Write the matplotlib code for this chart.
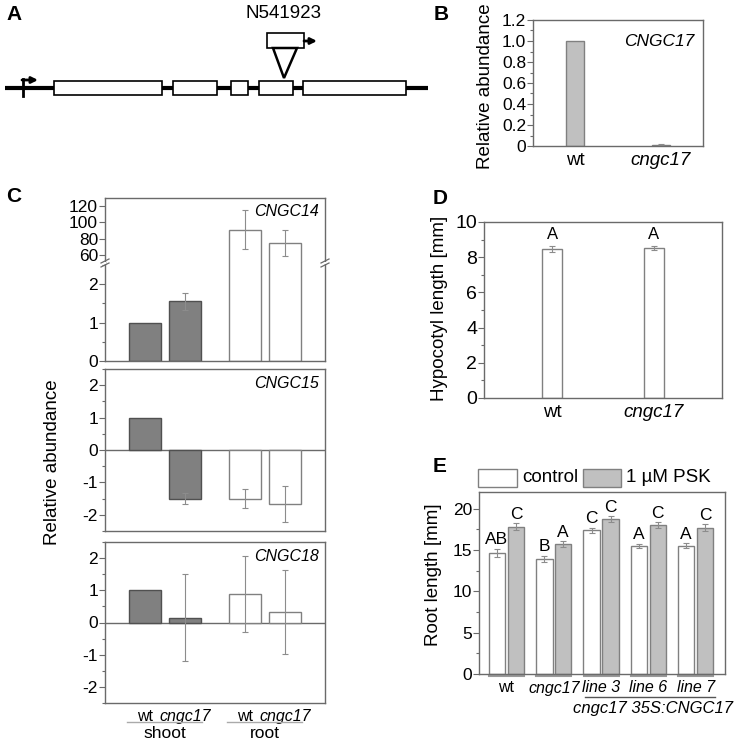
import numpy as np
import matplotlib
matplotlib.use("Agg")
import matplotlib.pyplot as plt
from matplotlib.patches import Rectangle, Polygon
from matplotlib.ticker import MultipleLocator, FuncFormatter
import matplotlib.transforms as mtransforms

plt.rcParams['font.family'] = ['Liberation Sans', 'DejaVu Sans']
plt.rcParams['axes.unicode_minus'] = False

W, H = 740, 741

# A: gene model (units of the drawing)
gene_span = (5, 428)
exon_starts = [54, 173, 231, 259, 303]
exon_ends = [162, 217, 248, 293, 406]
tss_pos = 23
insert_pos = 284
insert_name = "N541923"

# B: CNGC17 expression
b_genotypes = ["wt", "cngc17"]
b_cngc17 = [1.0, 0.012]
b_err = [0.0, 0.006]

# C: CNGC14/15/18 expression in shoot and root
c_labels = ["wt", "cngc17", "wt", "cngc17"]
c_tissues = ["shoot", "root"]
c_cngc14 = [1.0, 1.55, 91, 75]
c_cngc14_err = [0, 0.23, 24, 16]
c_cngc15 = [1.0, -1.5, -1.5, -1.67]
c_cngc15_err = [0, 0.18, 0.3, 0.55]
c_cngc18 = [1.0, 0.15, 0.88, 0.33]
c_cngc18_err = [0, 1.35, 1.17, 1.3]

# D: hypocotyl length
d_genotypes = ["wt", "cngc17"]
d_hypocotyl = [8.47, 8.52]
d_err = [0.15, 0.1]
d_letters = ["A", "A"]

# E: root length
e_groups = ["wt", "cngc17", "line 3", "line 6", "line 7"]
e_control = [14.6, 13.9, 17.4, 15.5, 15.5]
e_control_err = [0.5, 0.35, 0.3, 0.25, 0.3]
e_psk = [17.8, 15.7, 18.7, 18.0, 17.7]
e_psk_err = [0.4, 0.35, 0.35, 0.35, 0.4]
e_letters_control = ["AB", "B", "C", "A", "A"]
e_letters_psk = ["C", "A", "C", "C", "C"]

DARK = '#808080'
LIGHT = '#c0c0c0'
SPINE = '#6a6a6a'
ERR = '#8c8c8c'
TICK_FS = 12.5
LAB_FS = 13.5

fig = plt.figure(figsize=(W / 100, H / 100), dpi=100)


def px_axes(l, t, r, b):
    return fig.add_axes([l / W, 1 - b / H, (r - l) / W, (b - t) / H])


def fig_text(x, y, s, **kw):
    return fig.text(x / W, 1 - y / H, s, **kw)


def style(ax, show=('left', 'bottom', 'top', 'right')):
    for name, sp in ax.spines.items():
        sp.set_color(SPINE)
        sp.set_linewidth(1.0)
        sp.set_visible(name in show)
    ax.tick_params(axis='y', which='major', direction='out', length=4, width=0.8,
                   color=SPINE, labelsize=TICK_FS, pad=1)
    ax.tick_params(axis='y', which='minor', direction='out', length=2, width=0.8, color=SPINE)
    ax.tick_params(axis='x', length=0, labelsize=LAB_FS, pad=4)
    ax.tick_params(right=False, top=False)


def errbars(ax, x, y, e, **kw):
    x, y, e = np.asarray(x), np.asarray(y), np.asarray(e)
    m = e > 0
    ax.errorbar(x[m], y[m], yerr=e[m], fmt='none', ecolor=ERR, elinewidth=0.8,
                capsize=2, capthick=0.8, **kw)


def panel_letter(x, y, s):
    fig_text(x, y, s, fontsize=15, fontweight='bold', ha='center', va='center')


# ---------------- A ----------------
axA = px_axes(0, 0, 430, 140)
axA.set_xlim(0, 430)
axA.set_ylim(140, 0)
axA.axis('off')
axA.plot(gene_span, [88, 88], color='black', lw=3, solid_capstyle='butt', zorder=1)
for s, e in zip(exon_starts, exon_ends):
    axA.add_patch(Rectangle((s, 81), e - s, 14, facecolor='white', edgecolor='black', lw=1.2, zorder=2))
axA.plot([tss_pos, tss_pos], [79, 96], color='black', lw=2, zorder=3)
axA.annotate('', xy=(tss_pos + 15, 80), xytext=(tss_pos - 1, 80),
             arrowprops=dict(arrowstyle='-|>', lw=2, color='black', mutation_scale=9,
                             shrinkA=0, shrinkB=0))
axA.add_patch(Rectangle((insert_pos - 17, 33), 37, 15, facecolor='white', edgecolor='black', lw=1.2))
axA.annotate('', xy=(insert_pos + 33, 41), xytext=(insert_pos + 20, 41),
             arrowprops=dict(arrowstyle='-|>', lw=2, color='black', mutation_scale=9,
                             shrinkA=0, shrinkB=0))
axA.add_patch(Polygon([(insert_pos - 11, 48), (insert_pos + 13, 48), (insert_pos, 78)],
                      closed=True, facecolor='white', edgecolor='black', lw=1.8))
axA.text(insert_pos, 14, insert_name, ha='center', va='center', fontsize=13.5)
panel_letter(14, 14, 'A')

# ---------------- B ----------------
axB = px_axes(533, 20, 703, 146)
style(axB)
xb = np.arange(len(b_genotypes))
axB.bar(xb, b_cngc17, width=0.2, color=LIGHT, edgecolor=DARK, lw=1)
errbars(axB, xb, b_cngc17, b_err)
axB.set_xlim(-0.49, 1.49)
axB.set_ylim(0, 1.2)
axB.yaxis.set_major_locator(MultipleLocator(0.2))
axB.yaxis.set_minor_locator(MultipleLocator(0.1))
axB.yaxis.set_major_formatter(FuncFormatter(lambda v, p: '0' if abs(v) < 1e-9 else f'{v:.1f}'))
axB.set_xticks(xb)
axB.set_xticklabels(b_genotypes)
axB.get_xticklabels()[1].set_style('italic')
axB.text(0.95, 0.83, 'CNGC17', transform=axB.transAxes, ha='right', va='center',
         fontsize=12.5, style='italic')
fig_text(485, 86, 'Relative abundance', rotation=90, ha='center', va='center', fontsize=LAB_FS)
panel_letter(441, 14, 'B')

# ---------------- C ----------------
xc = np.array([0, 1, 2.5, 3.5])
shoot_root_colors = [DARK, DARK, 'white', 'white']
edge_colors = ['#505050', '#505050', DARK, DARK]
XLIM_C = (-1.01, 4.49)


def c_bars(ax, vals, errs):
    ax.bar(xc, vals, width=0.8, color=shoot_root_colors, edgecolor=edge_colors, lw=1)
    errbars(ax, xc, vals, errs)
    ax.set_xlim(*XLIM_C)
    ax.set_xticks([])


axC14u = px_axes(105, 198, 325, 263)
style(axC14u, show=('left', 'top', 'right'))
c_bars(axC14u, c_cngc14, c_cngc14_err)
axC14u.set_ylim(50, 130)
axC14u.set_yticks([60, 80, 100, 120])
axC14u.text(0.97, 0.8, 'CNGC14', transform=axC14u.transAxes, ha='right', va='center',
            fontsize=11.5, style='italic')

axC14l = px_axes(105, 263, 325, 361)
style(axC14l, show=('left', 'bottom', 'right'))
c_bars(axC14l, c_cngc14, c_cngc14_err)
axC14l.set_ylim(0, 2.55)
axC14l.yaxis.set_major_locator(MultipleLocator(1))
axC14l.yaxis.set_minor_locator(MultipleLocator(0.5))

# axis break marks
for xb_px in (105, 325):
    for dy in (-2, 2):
        fig.add_artist(plt.Line2D([(xb_px - 4) / W, (xb_px + 4) / W],
                                  [1 - (263 + dy + 2) / H, 1 - (263 + dy - 2) / H],
                                  color=SPINE, lw=0.9))
    fig.add_artist(Rectangle(((xb_px - 1.5) / W, 1 - 264 / H), 3 / W, 2 / H,
                             transform=fig.transFigure, facecolor='white', edgecolor='none'))

for top, bot, vals, errs, name in [(369, 531, c_cngc15, c_cngc15_err, 'CNGC15'),
                                   (542, 703, c_cngc18, c_cngc18_err, 'CNGC18')]:
    ax = px_axes(105, top, 325, bot)
    style(ax)
    ax.axhline(0, color=SPINE, lw=1, zorder=0)
    c_bars(ax, vals, errs)
    ax.set_ylim(-2.5, 2.5)
    ax.yaxis.set_major_locator(MultipleLocator(1))
    ax.yaxis.set_minor_locator(MultipleLocator(0.5))
    ax.text(0.97, 0.91, name, transform=ax.transAxes, ha='right', va='center',
            fontsize=11.5, style='italic')
    axC18 = ax

axC18.set_xticks(xc)
axC18.set_xticklabels(c_labels, fontsize=11.5)
for i, t in enumerate(axC18.get_xticklabels()):
    if c_labels[i] != 'wt':
        t.set_style('italic')
axC18.tick_params(axis='x', pad=4)
trC = mtransforms.blended_transform_factory(axC18.transData, fig.transFigure)
for k, tissue in enumerate(c_tissues):
    x0, x1 = xc[2 * k] - 0.45, xc[2 * k + 1] + 0.42
    axC18.plot([x0, x1], [1 - 722 / H] * 2, color='#aaaaaa', lw=1, transform=trC, clip_on=False)
    axC18.text((x0 + x1) / 2, 1 - 733 / H, tissue, transform=trC, ha='center', va='center',
               fontsize=12.5)
fig_text(53, 462, 'Relative abundance', rotation=90, ha='center', va='center', fontsize=LAB_FS)
panel_letter(14, 197, 'C')

# ---------------- D ----------------
axD = px_axes(484, 222, 722, 398)
style(axD)
xd = np.arange(len(d_genotypes))
axD.bar(xd, d_hypocotyl, width=0.2, color='white', edgecolor=DARK, lw=1)
errbars(axD, xd, d_hypocotyl, d_err)
for x, v, e, s in zip(xd, d_hypocotyl, d_err, d_letters):
    axD.text(x, v + e + 0.25, s, ha='center', va='bottom', fontsize=12)
axD.set_xlim(-0.67, 1.67)
axD.set_ylim(0, 10)
axD.yaxis.set_major_locator(MultipleLocator(2))
axD.yaxis.set_minor_locator(MultipleLocator(1))
axD.tick_params(axis='y', labelsize=14)
axD.set_xticks(xd)
axD.set_xticklabels(d_genotypes)
axD.get_xticklabels()[1].set_style('italic')
fig_text(440, 308, 'Hypocotyl length [mm]', rotation=90, ha='center', va='center', fontsize=LAB_FS)
panel_letter(440, 199, 'D')

# ---------------- E ----------------
axE = px_axes(479, 492, 725, 674)
style(axE)
xe = np.arange(len(e_groups))
off, bw = 0.2, 0.35
axE.bar(xe - off, e_control, width=bw, color='white', edgecolor=DARK, lw=1)
axE.bar(xe + off, e_psk, width=bw, color=LIGHT, edgecolor=DARK, lw=1)
errbars(axE, xe - off, e_control, e_control_err)
errbars(axE, xe + off, e_psk, e_psk_err)
for x, v, e, s in zip(xe - off, e_control, e_control_err, e_letters_control):
    axE.text(x, v + e + 0.2, s, ha='center', va='bottom', fontsize=12.5)
for x, v, e, s in zip(xe + off, e_psk, e_psk_err, e_letters_psk):
    axE.text(x, v + e + 0.2, s, ha='center', va='bottom', fontsize=12.5)
axE.set_xlim(-0.58, 4.62)
axE.set_ylim(0, 22)
axE.yaxis.set_major_locator(MultipleLocator(5))
axE.yaxis.set_minor_locator(MultipleLocator(2.5))
axE.set_xticks([])
trE = mtransforms.blended_transform_factory(axE.transData, fig.transFigure)
for x, g in zip(xe, e_groups):
    axE.plot([x - 0.37, x + 0.37], [1 - 676 / H] * 2, color='#999999', lw=1.5,
             transform=trE, clip_on=False)
    axE.text(x, 1 - 688 / H, g, transform=trE, ha='center', va='center', fontsize=11.5,
             style='normal' if g == 'wt' else 'italic')
axE.plot([1.66, 4.41], [1 - 697 / H] * 2, color='#555555', lw=1, transform=trE, clip_on=False)
fig_text(733, 708, 'cngc17 35S:CNGC17', ha='right', va='center', fontsize=12, style='italic')

# legend keys
for (l, r), face, lab in [((478, 517), 'white', 'control'), ((583, 621), LIGHT, '1 µM PSK')]:
    fig.add_artist(Rectangle((l / W, 1 - 487 / H), (r - l) / W, 18 / H, transform=fig.transFigure,
                             facecolor=face, edgecolor=DARK, lw=1))
    fig_text(r + 5, 478, lab, ha='left', va='center', fontsize=LAB_FS)
fig_text(433, 575, 'Root length [mm]', rotation=90, ha='center', va='center', fontsize=LAB_FS)
panel_letter(440, 466, 'E')

fig.savefig('out.png', dpi=100)
